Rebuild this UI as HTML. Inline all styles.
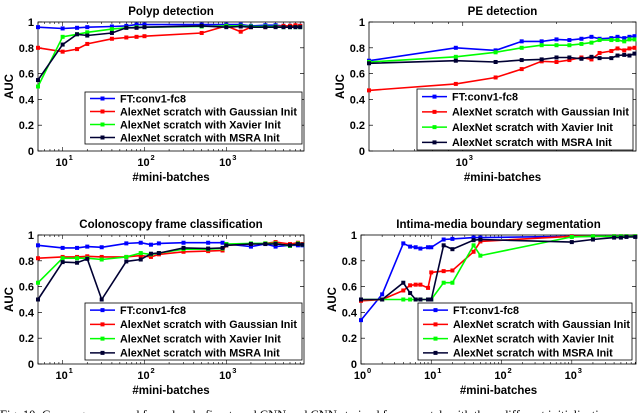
<!DOCTYPE html>
<html><head><meta charset="utf-8">
<style>
html,body{margin:0;padding:0;background:#fff;width:640px;height:413px;overflow:hidden}
svg{display:block}
text{font-family:"Liberation Sans",Arial,sans-serif;font-weight:bold;fill:#000}
.cap{font-family:"Liberation Serif",serif;font-weight:normal;font-size:12.5px}
</style></head>
<body>
<svg id="fig" width="640" height="413" viewBox="0 0 640 413" xmlns="http://www.w3.org/2000/svg">
<text class="cap" x="0" y="419">Fig. 10: Convergence speed for a deeply fine-tuned CNN and CNNs trained from scratch with three different initialization</text>
</svg>
<script>
const seriesNames = ["FT:conv1-fc8","AlexNet scratch with Gaussian Init","AlexNet scratch with Xavier Init","AlexNet scratch with MSRA Init"];
const seriesKeys = ["blue","red","green","black"];
const yTicks = [0,0.2,0.4,0.6,0.8,1];
const yTickLabels = ["0","0.2","0.4","0.6","0.8","1"];

// Polyp detection
const polypX = [5,10,15,20,40,60,80,100,500,1000,1500,2000,3000,4000,5000,6000,7000,8000];
const polypBlue = [.96,.95,.955,.96,.965,.97,.98,.98,.98,.98,.98,.97,.975,.975,.97,.97,.97,.97];
const polypRed = [.80,.77,.79,.83,.87,.88,.885,.89,.915,.97,.925,.96,.96,.965,.97,.97,.975,.97];
const polypGreen = [.50,.885,.905,.92,.945,.955,.96,.96,.965,.97,.97,.965,.965,.965,.96,.96,.96,.96];
const polypBlack = [.55,.825,.905,.895,.915,.955,.955,.96,.97,.96,.965,.96,.96,.96,.96,.96,.96,.96];
const polypXTicks = [10,100,1000];

// PE detection
const peX = [500,950,1275,1546,1792,2000,2200,2405,2590,2750,3000,3140,3300,3430,3560];
const peBlue = [.70,.80,.78,.85,.85,.865,.86,.87,.885,.87,.875,.885,.875,.885,.89];
const peRed = [.47,.52,.57,.635,.695,.69,.705,.725,.71,.76,.775,.795,.78,.795,.80];
const peGreen = [.69,.73,.765,.80,.82,.82,.82,.83,.84,.86,.86,.86,.85,.865,.865];
const peBlack = [.68,.70,.69,.705,.71,.725,.725,.715,.73,.72,.72,.74,.745,.74,.755];
const peXTicks = [1000];

// Colonoscopy frame classification
const colonX = [5,10,15,20,30,60,90,120,150,300,600,900,1000,2000,3000,4000,6000,7500,8500];
const colonBlue = [.92,.90,.90,.91,.905,.935,.94,.925,.935,.94,.94,.94,.93,.91,.93,.91,.92,.92,.92];
const colonRed = [.82,.83,.83,.835,.83,.83,.84,.83,.85,.87,.875,.88,.92,.93,.935,.945,.93,.94,.93];
const colonGreen = [.63,.82,.82,.82,.81,.83,.86,.85,.86,.89,.89,.895,.93,.935,.935,.935,.915,.935,.925];
const colonBlack = [.50,.79,.785,.815,.50,.795,.81,.855,.86,.90,.895,.90,.92,.93,.93,.93,.92,.93,.925];
const colonXTicks = [10,100,1000];

// Intima-media boundary segmentation
const imX = [1,2,4,5,6,7,9,10,15,20,40,50,1000,2000,4000,5000,6000,8000];
const imBlue = [.34,.54,.935,.91,.905,.895,.905,.905,.965,.97,.98,.98,.99,.99,.99,.99,.99,.99];
const imRed = [.49,.50,.57,.61,.615,.615,.59,.71,.72,.725,.87,.95,.99,.99,.99,.99,.99,.99];
const imGreen = [.50,.50,.50,.50,.50,.50,.50,.50,.63,.63,.92,.84,.985,.99,.99,.99,.99,.99];
const imBlack = [.50,.50,.63,.55,.50,.50,.50,.50,.92,.89,.96,.965,.945,.965,.98,.98,.985,.985];
const imXTicks = [1,10,100,1000];

const colors = {blue:"#0000ff",red:"#ff0000",green:"#00ff00",black:"#000033"};
const NS = "http://www.w3.org/2000/svg";
const svg = document.getElementById("fig");

function mk(tag, attrs, parent){
  const e = document.createElementNS(NS, tag);
  for (const k in attrs) e.setAttribute(k, attrs[k]);
  (parent||svg).appendChild(e);
  return e;
}

function chart(cfg){
  const g = mk("g", {});
  
  
  const L=cfg.left,R=cfg.right,T=cfg.top,B=cfg.bottom;
  const lx0=Math.log10(cfg.xmin), lx1=Math.log10(cfg.xmax);
  const sx = v => L + (Math.log10(v)-lx0)/(lx1-lx0)*(R-L);
  const sy = v => B - v*(B-T);
  const t = mk("text",{x:(L+R)/2,y:T-7,"text-anchor":"middle","font-size":"11.5"},g);
  t.textContent = cfg.title;
  
  
  const fr = mk("rect",{x:L,y:T,width:R-L,height:B-T,fill:"none",stroke:"#000","stroke-width":"0.8"},g);
  
  
  yTicks.forEach((v,i)=>{
    const y=sy(v);
    mk("line",{x1:L,x2:L+4,y1:y,y2:y,stroke:"#000","stroke-width":"0.7"},g);
    mk("line",{x1:R,x2:R-4,y1:y,y2:y,stroke:"#000","stroke-width":"0.7"},g);
    const tl = mk("text",{x:L-4,y:y+4,"text-anchor":"end","font-size":"11"},g);
    tl.textContent = yTickLabels[i];
    
    
  });
  for (let d=Math.floor(lx0); d<=Math.ceil(lx1); d++){
    for (let m=1;m<10;m++){
      const v=m*Math.pow(10,d);
      if (v<cfg.xmin*0.999||v>cfg.xmax*1.001) continue;
      const x=sx(v), len=m===1?4:2;
      mk("line",{x1:x,x2:x,y1:B,y2:B-len,stroke:"#000","stroke-width":"0.6"},g);
      mk("line",{x1:x,x2:x,y1:T,y2:T+len,stroke:"#000","stroke-width":"0.6"},g);
    }
  }
  cfg.xTicks.forEach(v=>{
    const x=sx(v);
    const tl = mk("text",{x:x-1,y:B+15,"text-anchor":"middle","font-size":"11"},g);
    tl.textContent = "10";
    
    
    const sp = mk("text",{x:x+6,y:B+9,"font-size":"7.5"},g);
    sp.textContent = String(Math.round(Math.log10(v)));
    
    
  });
  const xl = mk("text",{x:(L+R)/2,y:B+30,"text-anchor":"middle","font-size":"11.5"},g);
  xl.textContent = "#mini-batches";
  
  
  const yl = mk("text",{x:0,y:0,"text-anchor":"middle","font-size":"11.5",transform:`translate(${L-25},${(T+B)/2}) rotate(-90)`},g);
  yl.textContent = "AUC";
  
  
  cfg.series.forEach((ys,si)=>{
    const col = colors[seriesKeys[si]];
    const pts = cfg.x.map((v,i)=>sx(v).toFixed(1)+","+sy(ys[i]).toFixed(1)).join(" ");
    const pl = mk("polyline",{points:pts,fill:"none",stroke:col,"stroke-width":"1.6"},g);
    
    
    cfg.x.forEach((v,i)=>{
      const m = mk("rect",{x:sx(v)-2,y:sy(ys[i])-2,width:4,height:4,fill:col},g);
      
      
    });
  });
  const lg = cfg.legend;
  const lb = mk("g",{},g);
  
  
  mk("rect",{x:lg.x,y:lg.y,width:lg.w,height:lg.h,fill:"#fff",stroke:"#000","stroke-width":"0.8"},lb);
  const step = lg.h/4;
  seriesNames.forEach((n,i)=>{
    const y = lg.y + step*(i+0.5);
    const col = colors[seriesKeys[i]];
    mk("line",{x1:lg.x+5,x2:lg.x+30,y1:y,y2:y,stroke:col,"stroke-width":"1.6"},lb);
    mk("rect",{x:lg.x+15.5,y:y-2,width:4,height:4,fill:col},lb);
    const tx = mk("text",{x:lg.x+35,y:y+3.8,"font-size":"10.8"},lb);
    tx.textContent = n;
    
    
  });
}

chart({name:"polyp-detection-chart",title:"Polyp detection",left:38,right:304,top:22,bottom:151,xmin:5,xmax:8900,
  x:polypX,series:[polypBlue,polypRed,polypGreen,polypBlack],xTicks:polypXTicks,legend:{x:85,y:92,w:217,h:52}});
chart({name:"pe-detection-chart",title:"PE detection",left:369,right:636,top:22,bottom:151,xmin:500,xmax:3600,
  x:peX,series:[peBlue,peRed,peGreen,peBlack],xTicks:peXTicks,legend:{x:417,y:89,w:216,h:61}});
chart({name:"colonoscopy-chart",title:"Colonoscopy frame classification",left:38,right:304,top:235,bottom:364,xmin:5,xmax:8900,
  x:colonX,series:[colonBlue,colonRed,colonGreen,colonBlack],xTicks:colonXTicks,legend:{x:85,y:303,w:217,h:57}});
chart({name:"intima-media-chart",title:"Intima-media boundary segmentation",left:361,right:636,top:235,bottom:364,xmin:1,xmax:8200,
  x:imX,series:[imBlue,imRed,imGreen,imBlack],xTicks:imXTicks,legend:{x:418,y:303,w:214,h:57}});
</script>
</body></html>
